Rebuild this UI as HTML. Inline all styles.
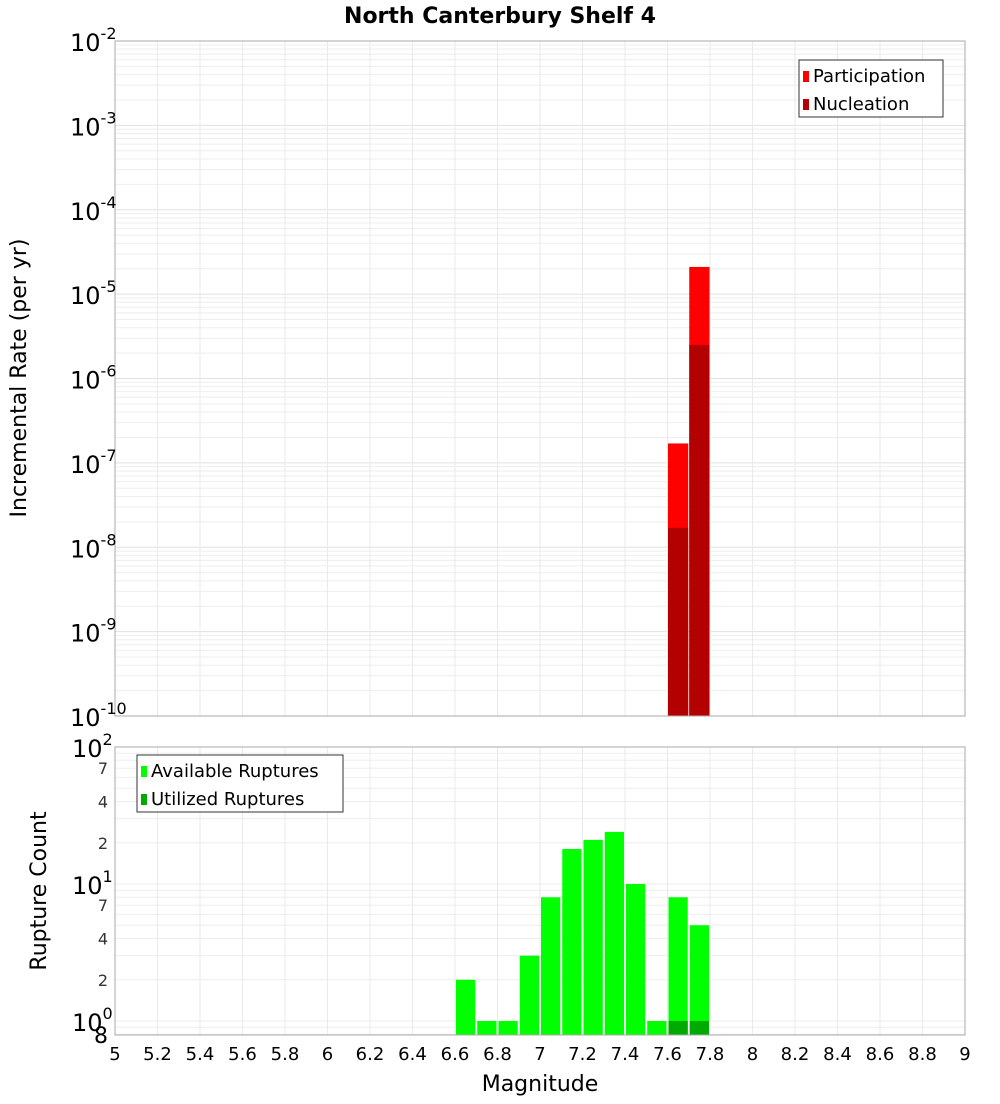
<!DOCTYPE html>
<html><head><meta charset="utf-8"><style>
body{margin:0;background:#fff;font-family:"DejaVu Sans","Liberation Sans",sans-serif;}
svg text{font-family:"DejaVu Sans","Liberation Sans",sans-serif;}
</style></head><body>
<svg id="c" width="1000" height="1100" xmlns="http://www.w3.org/2000/svg">
<text x="500" y="23" text-anchor="middle" font-size="22" font-weight="bold">North Canterbury Shelf 4</text>
<g id="top"></g><g id="bot"></g>
</svg>
<script>
const mags=[6.65,6.75,6.85,6.95,7.05,7.15,7.25,7.35,7.45,7.55,7.65,7.75];
const available=[2,1,1,3,8,18,21,24,10,1,8,5];
const utilized=[0,0,0,0,0,0,0,0,0,0,1,1];
const rateMags=[7.65,7.75];
const participation=[1.7e-7,2.1e-5];
const nucleation=[1.7e-8,2.5e-6];
const xTicks=[5,5.2,5.4,5.6,5.8,6,6.2,6.4,6.6,6.8,7,7.2,7.4,7.6,7.8,8,8.2,8.4,8.6,8.8,9];

const NS='http://www.w3.org/2000/svg';
const svg=document.getElementById('c');
function el(t,a,p){const e=document.createElementNS(NS,t);for(const k in a)e.setAttribute(k,a[k]);(p||svg).appendChild(e);return e;}
const L=115,R=965;
const x=m=>L+(m-5)/4*(R-L);
const T1=41,B1=716; const y1=v=>B1-(Math.log10(v)+10)/8*(B1-T1);
const T2=747,B2=1035; const y2=v=>1021-Math.log10(v)*137;
const gT=document.getElementById('top'), gB=document.getElementById('bot');

// top grid
for(let d=-10;d<-2;d++)for(let k=1;k<10;k++){const yy=y1(k*Math.pow(10,d));const l=el('line',{x1:L,x2:R,y1:yy,y2:yy,stroke:k==1?'#e0e0e0':'#eeeeee','stroke-width':1},gT);}
xTicks.forEach(m=>{const l=el('line',{x1:x(m),x2:x(m),y1:T1,y2:B1,stroke:'#eaeaea'},gT);});
// bottom grid
[0.8,0.9,1,2,3,4,5,6,7,8,9,10,20,30,40,50,60,70,80,90,100].forEach(v=>{const yy=y2(v);const l=el('line',{x1:L,x2:R,y1:yy,y2:yy,stroke:'#eeeeee'},gB);});
xTicks.forEach(m=>{const l=el('line',{x1:x(m),x2:x(m),y1:T2,y2:B2,stroke:'#eaeaea'},gB);});

const bw=(R-L)/40;
rateMags.forEach((m,i)=>{
 let r=el('rect',{x:x(m)-bw/2+0.5,y:y1(participation[i]),width:bw-1,height:B1-y1(participation[i]),fill:'#ff0000'},gT);
 
 r=el('rect',{x:x(m)-bw/2+0.5,y:y1(nucleation[i]),width:bw-1,height:B1-y1(nucleation[i]),fill:'#b30000'},gT);
 
});
mags.forEach((m,i)=>{
 let r=el('rect',{x:x(m)-bw/2+1,y:y2(available[i]),width:bw-2,height:B2-y2(available[i]),fill:'#00ff00'},gB);
 
 if(utilized[i]>0){r=el('rect',{x:x(m)-bw/2+1,y:y2(utilized[i]),width:bw-2,height:B2-y2(utilized[i]),fill:'#00aa00'},gB);
 }
});
let f=el('rect',{x:L,y:T1,width:R-L,height:B1-T1,fill:'none',stroke:'#aaa'},gT);
f=el('rect',{x:L,y:T2,width:R-L,height:B2-T2,fill:'none',stroke:'#aaa'},gB);

// top y labels
for(let d=-10;d<=-2;d++){const yy=y1(Math.pow(10,d));
 const t=el('text',{x:70,y:yy+10,'font-size':24},gT);
 t.textContent='10';const s=el('tspan',{dy:-12,'font-size':16},t);s.textContent=String(d);}
// bottom y labels
[[1,0],[10,1],[100,2]].forEach(([v,e])=>{const yy=y2(v);const t=el('text',{x:72,y:yy+10,'font-size':24},gB);t.textContent='10';const s=el('tspan',{dy:-12,'font-size':16},t);s.textContent=String(e);});
[[2,'2'],[4,'4'],[7,'7'],[20,'2'],[40,'4'],[70,'7']].forEach(([v,s])=>{const t=el('text',{x:108,y:y2(v)+6,'font-size':16,'text-anchor':'end',fill:'#333'},gB);t.textContent=s;});
let t8=el('text',{x:108,y:1043,'font-size':22,'text-anchor':'end'},gB);t8.textContent='8';
xTicks.forEach(m=>{const t=el('text',{x:x(m),y:1060,'font-size':18,'text-anchor':'middle'},gB);t.textContent=String(m);});
let at=el('text',{x:540,y:1091,'font-size':22,'text-anchor':'middle'});at.textContent='Magnitude';
at=el('text',{x:0,y:0,'font-size':22,'text-anchor':'middle',transform:'translate(26,378) rotate(-90)'});at.textContent='Incremental Rate (per yr)';
at=el('text',{x:0,y:0,'font-size':22,'text-anchor':'middle',transform:'translate(46,891) rotate(-90)'});at.textContent='Rupture Count';

function legend(g,x0,y0,w,items,name){
 const lg=el('g',{},g);
 el('rect',{x:x0,y:y0,width:w,height:57,fill:'#fff',stroke:'#333'},lg);
 items.forEach(([c,s],i)=>{el('rect',{x:x0+4,y:y0+11+i*28,width:6,height:11,fill:c},lg);
 const t=el('text',{x:x0+14,y:y0+22+i*28,'font-size':18},lg);t.textContent=s;});
}
legend(gT,799,60,144,[['#ff0000','Participation'],['#b30000','Nucleation']],'top-legend');
legend(gB,137,755,206,[['#00ff00','Available Ruptures'],['#00aa00','Utilized Ruptures']],'bottom-legend');
</script>
</body></html>
